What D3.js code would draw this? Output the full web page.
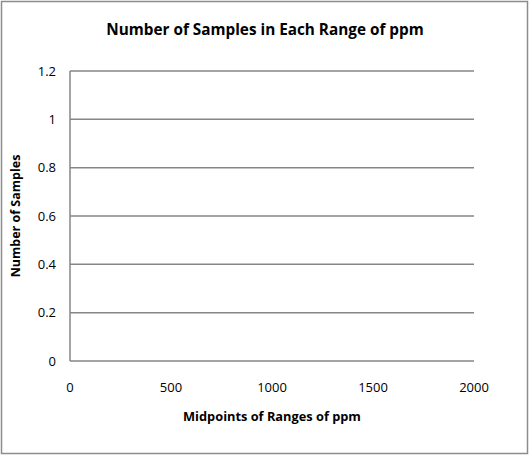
<!DOCTYPE html>
<html><head><meta charset="utf-8">
<script src="https://cdn.jsdelivr.net/npm/d3@7"></script>
<style>body{margin:0;background:#fff}svg{display:block}text{font-family:"Open Sans","Noto Sans",sans-serif;fill:#000}</style>
</head><body>
<script>
const title = "Number of Samples in Each Range of ppm";
const xTitle = "Midpoints of Ranges of ppm";
const yTitle = "Number of Samples";
const xTicks = [0, 500, 1000, 1500, 2000];
const yTicks = [0, 0.2, 0.4, 0.6, 0.8, 1, 1.2];
const midpoints = [];
const counts = [];

const W = 530, H = 456;
const svg = d3.select("body").append("svg").attr("width", W).attr("height", H);
svg.append("rect").attr("x", 1.5).attr("y", 1.5).attr("width", W - 4).attr("height", H - 4)
  .attr("fill", "#fff").attr("stroke", "#8c8c8c").attr("stroke-width", 1.5);

const x = d3.scaleLinear().domain([0, 2000]).range([70, 474]);
const y = d3.scaleLinear().domain([0, 1.2]).range([361, 71]);
const grey = "#868686";

svg.append("g").selectAll("line").data(yTicks).join("line")
  .attr("x1", x(0)).attr("x2", x(2000)).attr("y1", d => y(d)).attr("y2", d => y(d))
  .attr("stroke", grey).attr("stroke-width", 1.5);
svg.append("line").attr("x1", x(0)).attr("x2", x(0)).attr("y1", y(0)).attr("y2", y(1.2))
  .attr("stroke", grey).attr("stroke-width", 1.5);

svg.append("g").selectAll("text").data(yTicks).join("text")
  .attr("x", 56).attr("y", d => y(d)).attr("dy", "0.35em").attr("text-anchor", "end")
  .attr("font-size", 13).text(d => d3.format("~g")(d));
svg.append("g").selectAll("text").data(xTicks).join("text")
  .attr("x", d => x(d)).attr("y", 387).attr("dy", "0.35em").attr("text-anchor", "middle")
  .attr("font-size", 13).text(d => d);

svg.append("g").selectAll("circle").data(midpoints.map((m, i) => [m, counts[i]])).join("circle")
  .attr("cx", d => x(d[0])).attr("cy", d => y(d[1])).attr("r", 3).attr("fill", "#4f81bd");

svg.append("text").attr("x", 265).attr("y", 30).attr("dy", "0.35em").attr("text-anchor", "middle")
  .attr("font-size", 15.3).attr("font-weight", "bold").text(title);
svg.append("text").attr("x", 272).attr("y", 417).attr("dy", "0.35em").attr("text-anchor", "middle")
  .attr("font-size", 12.8).attr("font-weight", "bold").text(xTitle);
svg.append("text").attr("transform", "translate(16,216) rotate(-90)").attr("dy", "0.35em")
  .attr("text-anchor", "middle").attr("font-size", 12.5).attr("font-weight", "bold").text(yTitle);
</script>
</body></html>
